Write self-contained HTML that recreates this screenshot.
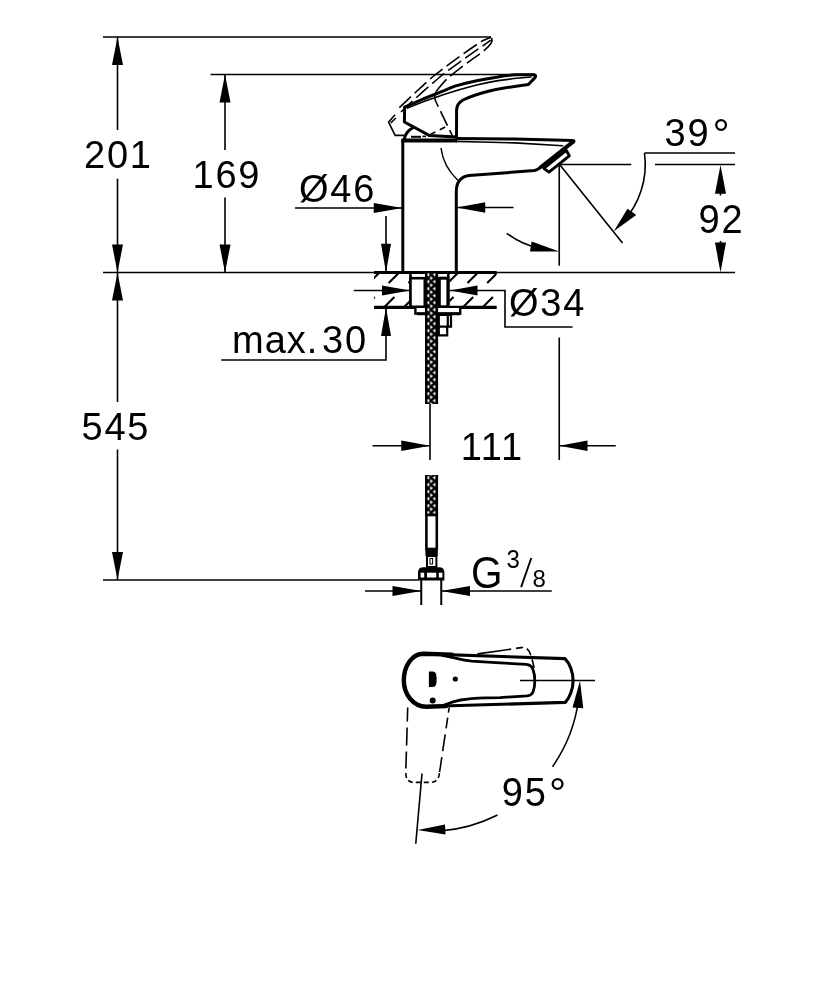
<!DOCTYPE html>
<html lang="en">
<head>
<meta charset="utf-8">
<title>Faucet dimension drawing</title>
<style>
html,body{margin:0;padding:0;background:#fff;}
body{width:834px;height:1000px;overflow:hidden;}
svg{display:block;filter:grayscale(1);}
text{font-family:"Liberation Sans",sans-serif;fill:#000;}
.thin{fill:none;stroke:#000;stroke-width:1.6;}
.med{fill:none;stroke:#000;stroke-width:1.6;}
.thick{fill:none;stroke:#000;stroke-width:3;stroke-linejoin:round;stroke-linecap:round;}
.dash{fill:none;stroke:#000;stroke-width:1.6;stroke-dasharray:16 5;}
.arr{fill:#000;stroke:none;}
.num{font-size:38px;letter-spacing:1.8px;}
</style>
</head>
<body>
<svg width="834" height="1000" viewBox="0 0 834 1000">
<defs>
  <pattern id="braid" x="425" y="341.2" width="13.2" height="7" patternUnits="userSpaceOnUse">
    <rect x="0" y="0" width="13.2" height="7" fill="#000"/>
    <ellipse cx="3.3" cy="3.5" rx="1" ry="1.7" fill="#fff"/>
    <path d="M10.4,1.5 V5.5 L7.7,3.5 Z" fill="#fff"/>
    <path d="M5.2,-2 V2 L8.1,0 Z M5.2,5 V9 L8.1,7 Z" fill="#fff"/>
  </pattern>
  <clipPath id="hatchclip">
    <rect x="374" y="272.5" width="36.5" height="35"/>
    <rect x="449.5" y="272.5" width="47.2" height="35"/>
  </clipPath>
</defs>
<rect x="0" y="0" width="834" height="1000" fill="#fff"/>

<!-- ===== DIMENSION LINES ===== -->
<g class="thin">
  <path d="M103,37 H491"/>
  <path d="M210.5,74.5 H535"/>
  <path d="M103,272.5 H735"/>
  <path d="M103,580 H418.5"/>
  <path d="M117.5,37 V130 M117.5,178.75 V272.5"/>
  <path d="M117.5,272.5 V402 M117.5,449.5 V580"/>
  <path d="M225,74.5 V150 M225,197.5 V272.5"/>
  <path d="M295,208 H402.5 M456.5,207.5 H513.5"/>
  <path d="M386,216 V272.5"/>
  <path d="M386,307.5 V360 H221.25"/>
  <path d="M353.75,290.5 H410"/>
  <path d="M450,290.5 H505 V327 H572.5"/>
  <path d="M559.25,165 V265.8 M559.25,337.5 V460"/>
  <path d="M372.5,445.75 H430 M559.25,445.75 H615.75"/>
  <path d="M430,403.75 V460"/>
  <path d="M365,591 H421.25 M441.25,591 H551.8"/>
  <path d="M560,164.5 H631.25 M655,164.5 H735 M644.5,153 H735"/>
  <path d="M560,165 L622.5,243"/>
  <path d="M644.5,153 A85.3,85.3 0 0 1 622,223"/>
  <path d="M506.7,233.3 A86,86 0 0 0 540,248.5"/>
  <path d="M520,680.5 H595"/>
  <path d="M720.5,193 V195.6 M720.5,241 V243"/>
  <path d="M422,773.5 L415.75,843.75"/>
  <path d="M578.5,700 A152,152 0 0 1 552.5,766.7"/>
  <path d="M497.5,815 A152,152 0 0 1 440,831"/>
</g>

<!-- ===== ARROWHEADS ===== -->
<g class="arr">
  <polygon points="117.5,37 112,65 123,65"/>
  <polygon points="117.5,272.5 112,244.5 123,244.5"/>
  <polygon points="117.5,272.5 112,300.5 123,300.5"/>
  <polygon points="117.5,580 112,552 123,552"/>
  <polygon points="225,74.5 219.5,102.5 230.5,102.5"/>
  <polygon points="225,272.5 219.5,244.5 230.5,244.5"/>
  <polygon points="402.5,208 373.75,203 373.75,213"/>
  <polygon points="456.5,207.5 485.25,202.3 485.25,212.7"/>
  <polygon points="386,272.5 381,243.75 391,243.75"/>
  <polygon points="386,307.5 381,336 391,336"/>
  <polygon points="410,290.5 382,285.5 382,295.5"/>
  <polygon points="450,290.5 477.5,285.5 477.5,295.5"/>
  <polygon points="430,445.75 401.25,440.5 401.25,451"/>
  <polygon points="559.25,445.75 587.5,440.5 587.5,451"/>
  <polygon points="421.25,591 392.5,586 392.5,596"/>
  <polygon points="441.25,591 470,586 470,596"/>
  <polygon points="720.5,165 715,193.75 726,193.75"/>
  <polygon points="720.5,272.5 715,242.5 726,242.5"/>
  <polygon points="613.75,231.25 627.5,208.75 636.25,215"/>
  <polygon points="559.25,251.4 531.6,241.4 530,251.6"/>
  <polygon points="580,680.8 572.5,707.5 583.3,708.3"/>
  <polygon points="417.5,830 445,824.5 445.5,834.5"/>
</g>

<!-- ===== TEXT ===== -->
<g class="num">
  <text x="84" y="168">201</text>
  <text x="192.5" y="187.8">169</text>
  <text x="299" y="201.8">Ø46</text>
  <text transform="translate(664.5,146) scale(1,1.03)">39</text>
  <text x="712.6" y="149" style="font-size:43px">°</text>
  <text transform="translate(698.5,233.4) scale(1,1.07)">92</text>
  <text transform="translate(509,316.1) scale(1,1.045)" x="0" y="0">Ø34</text>
  <text x="232" y="352.5" style="letter-spacing:1px">max.</text>
  <text x="322" y="352.5">30</text>
  <text x="81.5" y="439.8">545</text>
  <text x="460.7" y="459.6">111</text>
  <text transform="translate(470.9,587.6) scale(1,1.09)" style="font-size:40.5px">G</text>
  <text transform="translate(506.6,568.2) scale(1,1.1)" style="font-size:24px;letter-spacing:0">3</text>
  <text transform="translate(532.4,587.1) scale(1,1.03)" style="font-size:24px;letter-spacing:0">8</text>
  <text transform="translate(501.8,805.9) scale(1,1.075)">95</text>
  <text x="548.9" y="807.7" style="font-size:43px">°</text>
</g>
<path class="thin" d="M521.1,587.1 L531.3,558" style="stroke-width:1.9"/>

<!-- ===== FAUCET SIDE VIEW ===== -->
<!-- dashed raised handle -->
<g class="dash">
  <path d="M399.4,107.7 C410,97.5 421,87 431.8,77.5 C446,66 466,51.5 482.5,40.8 L491,37.2"/>
  <path d="M401,112 C413,100.5 428,87 439.3,77.5 C450.6,68 472,53.5 490.8,40.2"/>
  <path d="M436.1,91.5 C440,86.5 443.5,82 447.4,78.5 C457,70.5 470,60.5 479.3,54.3 C484,51 489,46.5 491.3,43 Q492.4,40.5 491.6,37.6"/>
  <path d="M436.1,91.5 C434.3,95 434.6,98.5 435.8,101.5 L452.5,136"/>
  <path d="M430,134.6 L447,126.2" style="stroke-dasharray:6 5"/>
  <path d="M395,114.8 L388.6,122.2 L395.1,135.4 H404" style="stroke-dasharray:none"/>
  <path d="M395.8,118 L390.8,123" style="stroke-dasharray:none"/>
  <path d="M411,136.8 H421" style="stroke-dasharray:none;stroke-width:2"/>
  <path d="M422.5,136.4 H426" style="stroke-dasharray:none"/>
</g>
<!-- body -->
<g class="thick">
  <path d="M402.8,272.5 V140.3"/>
  <path d="M401.5,140.4 H457" style="stroke-width:4;stroke-linecap:butt"/>
  <path d="M456.5,138.6 L515,139.0 L572.8,140.4 Q574.6,140.8 573.6,142 L538.2,169.1 C536.8,170 535.5,170.3 534.4,170.5 L469.1,175.6 C460,176.8 456.3,183 456.3,192 V272.5"/>
  <path d="M572.5,141.8 L540,167.5" style="stroke-width:3.4"/>
  <path d="M456.7,141.4 L480,142 L515,142.9 L562.5,145.7" style="stroke-width:1.6"/>
  <path d="M543.8,168.4 L566.2,150.3 L569.3,155.8 L549,172.2 Z" style="stroke-width:2.9"/>
  <path d="M404.4,138.7 C405.3,134 408.3,130.2 412.8,127.7"/>
  <!-- handle -->
  <path d="M404.6,107.2 L404.4,122 L429.6,135.6 L456.5,137 L456.6,110 C456.8,104.5 459.5,102 463,100 C470,96.5 478,94 487.4,91.5 C497,89.2 512,86.5 528.4,84.5 L535,77.6 C536,76 535.6,74.8 534,74.8 L515.4,74.8 C511,74.9 504,76 498.1,76.9 C490,78.1 483,79.4 476.6,80.7 C469,82.3 462,84 455,86.1 C451,87.5 448,89 444.7,90.4 L423.1,99 Z"/>
  <path d="M407.5,108 L423.1,101.7 L444.7,94.2 C455,90.8 466,87.7 476.6,85 C484,83.2 491,81.8 498.1,80.7 C505,79.6 512,78.7 519.7,78 L531,77" style="stroke-width:1.7"/>
</g>
<path class="thin" d="M441,148 C442,156 446,169 457.8,180.3" style="stroke-width:1.5"/>

<!-- ===== MOUNTING / HATCH ===== -->
<path d="M374,272.6 H496.7" class="med" style="stroke-width:3"/>
<path d="M374,307.4 H496.7" class="med" style="stroke-width:3.3"/>
<g clip-path="url(#hatchclip)" class="med" style="stroke-width:2.1">
  <path d="M379.5,272.5 l-10.5,10.5 m-14,14 l-10.5,10.5"/>
  <path d="M399.2,272.5 l-10.5,10.5 m-14,14 l-10.5,10.5"/>
  <path d="M418.9,272.5 l-10.5,10.5 m-14,14 l-10.5,10.5"/>
  <path d="M438.6,272.5 l-10.5,10.5 m-14,14 l-10.5,10.5"/>
  <path d="M458.3,272.5 l-10.5,10.5 m-14,14 l-10.5,10.5"/>
  <path d="M478,272.5 l-10.5,10.5 m-14,14 l-10.5,10.5"/>
  <path d="M497.7,272.5 l-10.5,10.5 m-14,14 l-10.5,10.5"/>
  <path d="M517.4,272.5 l-10.5,10.5 m-14,14 l-10.5,10.5"/>
</g>
<!-- hole contents -->
<path d="M410.5,273 V307 M448.3,273 V307" stroke="#000" stroke-width="2.6" fill="none"/>
<rect x="410.5" y="278.2" width="14.3" height="28.6" fill="#fff" stroke="#000" stroke-width="2.6"/>
<rect x="439.3" y="278.2" width="8.6" height="28.6" fill="#fff" stroke="#000" stroke-width="3"/>
<!-- washer / nut -->
<path d="M415.4,308 V313.6 H460.2 V308" fill="#fff" stroke="#000" stroke-width="2.4"/>
<path d="M417,313.7 H460.5" stroke="#000" stroke-width="3" fill="none"/>
<path class="med" d="M438.8,315 H451 V326.6 H438.8 Z M438.8,326.6 H447.2 V335.4 H438.8 Z M447.8,315 V326.6" style="stroke-width:2.2"/>
<!-- hose upper -->
<rect x="425" y="273" width="13.1" height="131" fill="url(#braid)"/>


<!-- hose lower -->
<rect x="425" y="475" width="13.1" height="40" fill="url(#braid)"/>

<rect x="426.4" y="515" width="10.4" height="34" fill="#fff" stroke="#000" stroke-width="2.6"/>
<rect x="425.4" y="549" width="12.4" height="7" fill="#000"/>
<rect x="427" y="556" width="9.4" height="11" fill="#fff" stroke="#000" stroke-width="2"/>
<rect x="430" y="558.5" width="2.6" height="5.5" fill="#fff" stroke="#000" stroke-width="1"/>
<path d="M418,580.5 V572.5 Q418,567.3 423.5,567.3 H439 Q444.4,567.3 444.4,572.5 V580.5 Z" fill="#000"/>
<rect x="420.6" y="572.7" width="3.6" height="4.8" fill="#fff"/>
<rect x="427" y="572.7" width="9.2" height="4.8" fill="#fff"/>
<rect x="438.8" y="572.7" width="3.6" height="4.8" fill="#fff"/>
<path d="M421.25,580 V605 M441.25,580 V605" class="med" style="stroke-width:2"/>

<!-- ===== TOP VIEW ===== -->
<g class="dash">
  <path d="M477.5,653.9 L500,650.8 L521,647.6 C526,647 528.5,649.5 530,653 C531.5,657 533,662 534.5,670" style="stroke-dasharray:34 5 7 4 8 4 9 4"/>
  <path d="M407.7,707.5 L405.8,772" style="stroke-dasharray:14 6 18 6 17 6"/>
  <path d="M405.8,773 Q405.8,782.4 414,782.4 H430 Q438.6,782.4 439.5,773" style="stroke-dasharray:5 3"/>
  <path d="M439.6,772 L449.2,707.5" style="stroke-dasharray:15 6 17 6 11 5 6 6"/>
</g>
<g class="thick" style="stroke-width:3.1">
  <path d="M423,653.9 L565,658.6 C569.5,663 573.1,672 573.1,680.8 C573.1,689 569.5,698 565.3,702.4 L426,706.5 C413.9,706.5 404.1,694.9 404.1,680.5 C404.1,665.8 412.6,653.9 423,653.9 Z"/>
  <path d="M452,654.6 L423,653.7 C412.4,653.7 403.8,665.8 403.8,680.5 C403.8,694.9 413.9,706.7 426,706.7 L446,706.1" style="stroke-width:4.4"/>
  <path d="M442.4,655.4 C452,657 462,660.3 471.5,661.2 L500,662.8 L526,664.4 Q531.5,664.8 533,669.5 C535.4,676 535.4,686 533,692 Q531.5,695.5 527,695.9 L500,697.6 L485.5,697.9 C475,698.3 468,698.8 460.7,700 C455,701 450,702.8 447.8,703.8 C445,705 442,706 439.2,706.5" style="stroke-width:2.8"/>
</g>
<path d="M428.9,671.4 H433 C435.7,671.6 436.6,674 436.6,679.2 C436.6,684.5 435.7,686.8 433,687 H428.9 Z" fill="#000"/>
<circle cx="455.3" cy="679" r="2.6" fill="#000"/>
<circle cx="432.7" cy="700.6" r="3" fill="#000"/>
</svg>
</body>
</html>
